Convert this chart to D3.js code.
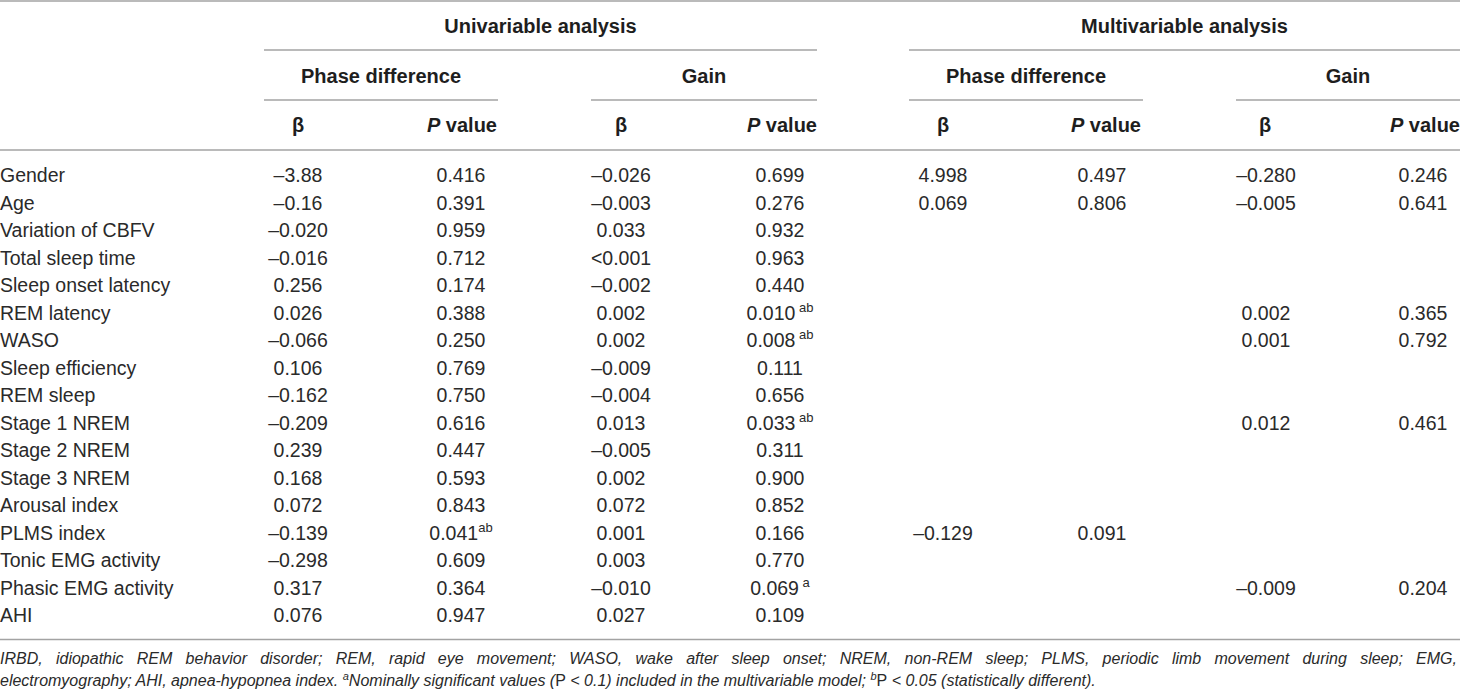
<!DOCTYPE html>
<html>
<head>
<meta charset="utf-8">
<script src="https://cdn.jsdelivr.net/npm/d3@7"></script>
<style>
  html, body { margin: 0; padding: 0; background: #fff; }
  svg { display: block; }
  text { font-family: "Liberation Sans", Arial, sans-serif; fill: #2a2a2a; }
  .hd { font-weight: bold; fill: #1e1e1e; }
</style>
</head>
<body>
<svg id="chart" width="1460" height="696"></svg>
<script>
// row labels
var variables = ['Gender', 'Age', 'Variation of CBFV', 'Total sleep time', 'Sleep onset latency',
    'REM latency', 'WASO', 'Sleep efficiency', 'REM sleep', 'Stage 1 NREM', 'Stage 2 NREM',
    'Stage 3 NREM', 'Arousal index', 'PLMS index', 'Tonic EMG activity', 'Phasic EMG activity', 'AHI'];

// univariable analysis
var uvPhaseBeta = ['–3.88', '–0.16', '–0.020', '–0.016', '0.256', '0.026', '–0.066', '0.106', '–0.162',
    '–0.209', '0.239', '0.168', '0.072', '–0.139', '–0.298', '0.317', '0.076'];
var uvPhaseP = ['0.416', '0.391', '0.959', '0.712', '0.174', '0.388', '0.250', '0.769', '0.750',
    '0.616', '0.447', '0.593', '0.843', '0.041', '0.609', '0.364', '0.947'];
var uvPhaseSup = [null, null, null, null, null, null, null, null, null,
    null, null, null, null, 'ab', null, null, null];
var uvGainBeta = ['–0.026', '–0.003', '0.033', '<0.001', '–0.002', '0.002', '0.002', '–0.009', '–0.004',
    '0.013', '–0.005', '0.002', '0.072', '0.001', '0.003', '–0.010', '0.027'];
var uvGainP = ['0.699', '0.276', '0.932', '0.963', '0.440', '0.010', '0.008', '0.111', '0.656',
    '0.033', '0.311', '0.900', '0.852', '0.166', '0.770', '0.069', '0.109'];
var uvGainSup = [null, null, null, null, null, ' ab', ' ab', null, null,
    ' ab', null, null, null, null, null, ' a', null];

// multivariable analysis (null = not in model)
var mvPhaseBeta = ['4.998', '0.069', null, null, null, null, null, null, null,
    null, null, null, null, '–0.129', null, null, null];
var mvPhaseP = ['0.497', '0.806', null, null, null, null, null, null, null,
    null, null, null, null, '0.091', null, null, null];
var mvGainBeta = ['–0.280', '–0.005', null, null, null, '0.002', '0.001', null, null,
    '0.012', null, null, null, null, null, '–0.009', null];
var mvGainP = ['0.246', '0.641', null, null, null, '0.365', '0.792', null, null,
    '0.461', null, null, null, null, null, '0.204', null];

var groupLabels = ['Univariable analysis', 'Multivariable analysis'];
var subLabels = ['Phase difference', 'Gain', 'Phase difference', 'Gain'];

var svg = d3.select('#chart');
var W = 1460;
var lineColor = '#a3a3a3';
var bodySize = '19.5px';
var headSize = '20px';

var y = d3.scaleLinear().domain([0, variables.length - 1]).range([182, 622]);

// column layout: beta columns centred under the beta header, P columns under "P value"
var columns = [
    { vals: uvPhaseBeta, sup: null, x: 298 },
    { vals: uvPhaseP, sup: uvPhaseSup, x: 461 },
    { vals: uvGainBeta, sup: null, x: 621 },
    { vals: uvGainP, sup: uvGainSup, x: 780 },
    { vals: mvPhaseBeta, sup: null, x: 943 },
    { vals: mvPhaseP, sup: null, x: 1102 },
    { vals: mvGainBeta, sup: null, x: 1266 },
    { vals: mvGainP, sup: null, x: 1423 }
];
var groupSpans = [[264, 817], [909, 1460]];
var subSpans = [[264, 498], [591, 817], [909, 1143], [1236, 1460]];
var betaHeadX = [298, 621, 943, 1265];
var pHeadRight = [497, 817, 1141, 1460];

function hline(x1, x2, yy) {
    svg.append('line')
        .attr('x1', x1).attr('x2', x2)
        .attr('y1', yy).attr('y2', yy)
        .attr('stroke', lineColor)
        .attr('stroke-width', 1.6);
}

// rules
hline(0, W, 1);
groupSpans.forEach(function(s) { hline(s[0], s[1], 50); });
subSpans.forEach(function(s) { hline(s[0], s[1], 100); });
hline(0, W, 150);
hline(0, W, 639.5);

// headers
svg.selectAll('.grp').data(groupLabels).enter().append('text')
    .attr('class', 'hd')
    .attr('x', function(d, i) { return (groupSpans[i][0] + groupSpans[i][1]) / 2; })
    .attr('y', 33)
    .attr('text-anchor', 'middle')
    .style('font-size', headSize)
    .text(function(d) { return d; });

svg.selectAll('.sub').data(subLabels).enter().append('text')
    .attr('class', 'hd')
    .attr('x', function(d, i) { return (subSpans[i][0] + subSpans[i][1]) / 2; })
    .attr('y', 83)
    .attr('text-anchor', 'middle')
    .style('font-size', headSize)
    .text(function(d) { return d; });

betaHeadX.forEach(function(x) {
    svg.append('text')
        .attr('class', 'hd')
        .attr('x', x).attr('y', 132)
        .attr('text-anchor', 'middle')
        .style('font-size', headSize)
        .text('β');
});
pHeadRight.forEach(function(x) {
    var t = svg.append('text')
        .attr('class', 'hd')
        .attr('x', x).attr('y', 132)
        .attr('text-anchor', 'end')
        .style('font-size', headSize);
    t.append('tspan').style('font-style', 'italic').text('P');
    t.append('tspan').text(' value');
});

// row labels
svg.selectAll('.rowlab').data(variables).enter().append('text')
    .attr('x', 0)
    .attr('y', function(d, i) { return y(i); })
    .style('font-size', bodySize)
    .text(function(d) { return d; });

// cells
columns.forEach(function(col) {
    col.vals.forEach(function(v, i) {
        if (v === null) return;
        var t = svg.append('text')
            .attr('x', col.x)
            .attr('y', y(i))
            .attr('text-anchor', 'middle')
            .style('font-size', bodySize);
        t.append('tspan').text(v);
        if (col.sup && col.sup[i]) {
            t.append('tspan')
                .attr('dy', -8)
                .style('font-size', '13px')
                .text(col.sup[i]);
        }
    });
});

// footnote
var fnSize = '16px';
var fn1 = svg.append('text')
    .attr('x', 0).attr('y', 664)
    .style('font-size', fnSize)
    .style('font-style', 'italic')
    .text('IRBD, idiopathic REM behavior disorder; REM, rapid eye movement; WASO, wake after sleep onset; NREM, non-REM sleep; PLMS, periodic limb movement during sleep; EMG,');
// justify the first line
var natural = fn1.node().getComputedTextLength();
var spaces = fn1.text().split(' ').length - 1;
fn1.style('word-spacing', Math.max(0, (1457 - natural) / spaces) + 'px');

var fn2 = svg.append('text')
    .attr('x', 0).attr('y', 686)
    .style('font-size', fnSize)
    .style('font-style', 'italic');
var parts = [
    { t: 'electromyography; AHI, apnea-hypopnea index. ' },
    { t: 'a', sup: true },
    { t: 'Nominally significant values (' },
    { t: 'P', up: true },
    { t: ' < 0.1) included in the multivariable model; ' },
    { t: 'b', sup: true },
    { t: 'P', up: true },
    { t: ' < 0.05 (statistically different).' }
];
var raised = false;
parts.forEach(function(p) {
    var ts = fn2.append('tspan').text(p.t);
    if (p.sup) {
        ts.attr('dy', -6).style('font-size', '11px');
        raised = true;
    } else if (raised) {
        ts.attr('dy', 6);
        raised = false;
    }
    if (p.up) ts.style('font-style', 'normal');
});
</script>
</body>
</html>
